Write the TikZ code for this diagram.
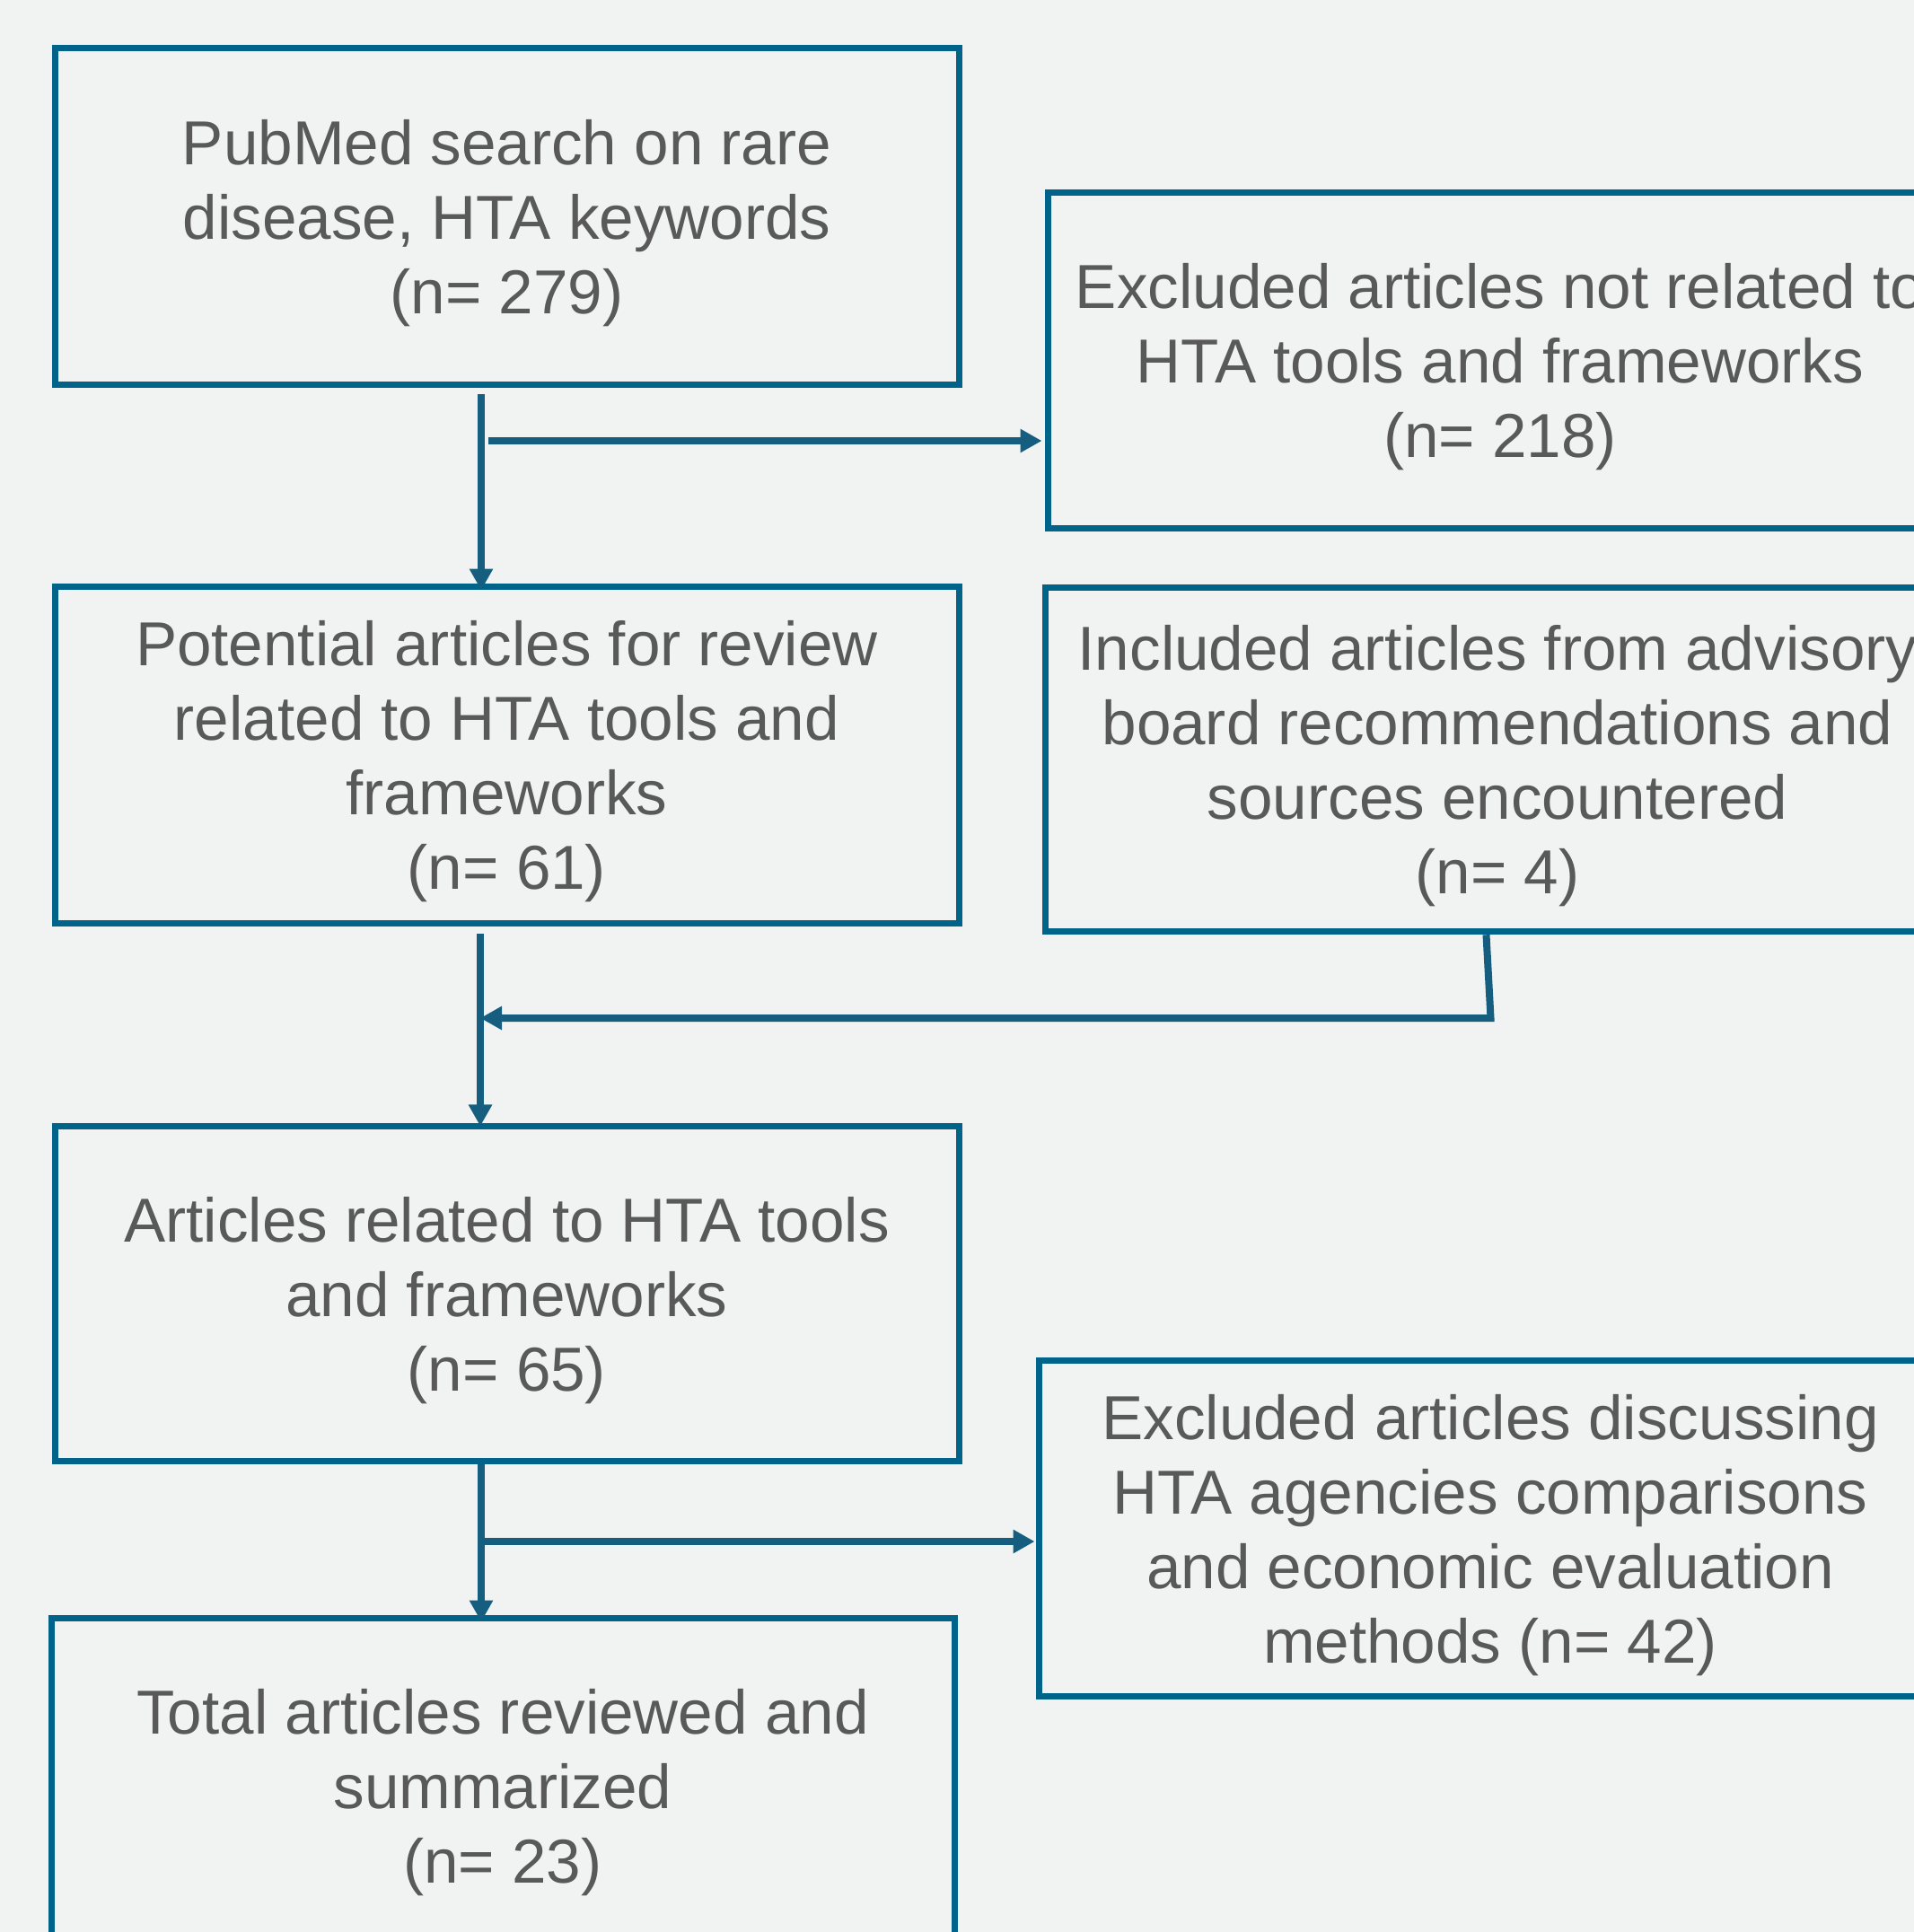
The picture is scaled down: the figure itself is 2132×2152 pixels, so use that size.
\documentclass[tikz,border=0pt]{standalone}
\usepackage{fontspec}
\setmainfont{Liberation Sans}
\usetikzlibrary{arrows.meta,calc}
\definecolor{bg}{HTML}{F1F3F2}
\definecolor{boxc}{HTML}{00638A}
\definecolor{arrc}{HTML}{155E80}
\definecolor{txt}{HTML}{595959}
\newcommand{\ls}{\rule[-16pt]{0pt}{82pt}}
\begin{document}
\begin{tikzpicture}[x=1pt,y=-1pt,
  box/.style={draw=boxc, line width=7pt, rectangle, inner sep=0pt, text=txt,
    align=center, font=\fontsize{69.2}{83}\selectfont,
    minimum width=1007pt, minimum height=374pt},
  arr/.style={draw=arrc, line width=8pt, -{Triangle[length=24pt,width=25pt]}}]
\fill[bg] (0,0) rectangle (2132,2152);
\useasboundingbox (0,0) rectangle (2132,2152);
\clip (0,0) rectangle (2132,2152);

\node[box, minimum height=374.5pt] (b1) at (564.5,241) {\ls PubMed search on rare\\\ls disease, HTA keywords\\\ls (n= 279)};
\node[box, minimum width=1008pt] (b2) at (1671,401) {\ls Excluded articles not related to\\\ls HTA tools and frameworks\\\ls (n= 218)};
\node[box, minimum height=375pt] (b3) at (564.5,840.5) {\ls Potential articles for review\\\ls related to HTA tools and\\\ls frameworks\\\ls (n= 61)};
\node[box, minimum height=383.5pt] (b4) at (1668,846) {\ls Included articles from advisory\\\ls board recommendations and\\\ls sources encountered\\\ls (n= 4)};
\node[box, minimum height=373pt] (b5) at (564.5,1441.4) {\ls Articles related to HTA tools\\\ls and frameworks\\\ls (n= 65)};
\node[box, minimum width=1006pt] (b6) at (1660,1702.75) {\ls Excluded articles discussing\\\ls HTA agencies comparisons\\\ls and economic evaluation\\\ls methods (n= 42)};
\node[box, minimum width=1006pt] (b7) at (560,1989) {\ls Total articles reviewed and\\\ls summarized\\\ls (n= 23)};

\coordinate (x1) at (536,491);
\coordinate (j1) at (544,491);
\coordinate (x2) at (535,1134);
\coordinate (k1) at (1655.5,1040);
\coordinate (k2) at (1660.5,1134);
\coordinate (x3) at (536,1717);

\draw[arr, shorten <=7pt, shorten >=-8pt] (b1.south -| x1) -- (b3.north -| x1);
\draw[arr, shorten >=3pt] (j1) -- (b2.west |- j1);
\draw[arr, shorten <=8pt, shorten >=-3pt] (b3.south -| x2) -- (b5.north -| x2);
\draw[arr, line join=miter] (b4.south -| k1) -- (k2) -- (x2);
\draw[arr, shorten >=-8pt] (b5.south -| x3) -- (b7.north -| x3);
\draw[arr, shorten >=1pt] (x3) -- (b6.west |- x3);
\end{tikzpicture}
\end{document}
